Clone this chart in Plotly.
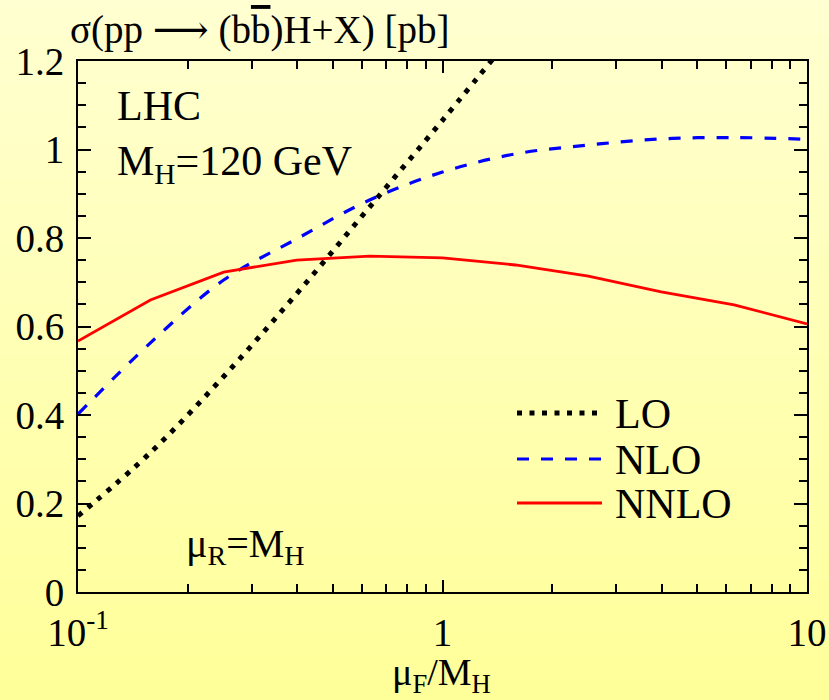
import plotly.graph_objects as go

# ---- data ----
mu_f = [0.1, 0.158, 0.251, 0.398, 0.631, 1.0, 1.585, 2.512, 3.981, 6.31, 10.0]
lo_x = [0.1, 0.158, 0.251, 0.398, 0.631, 1.0, 1.585]
lo_y = [0.172, 0.315, 0.487, 0.674, 0.870, 1.066, 1.267]
nlo_y = [0.402, 0.563, 0.705, 0.798, 0.886, 0.949, 0.990, 1.010, 1.024, 1.027, 1.023]
nnlo_y = [0.567, 0.660, 0.723, 0.750, 0.759, 0.755, 0.739, 0.714, 0.678, 0.649, 0.606]

series_names = ["LO", "NLO", "NNLO"]
x_tickvals = [0.1, 1, 10]
x_ticktext = ["10<sup>-1</sup>", "1", "10"]
x_minor = [0.2, 0.3, 0.4, 0.5, 0.6, 0.7, 0.8, 0.9, 2, 3, 4, 5, 6, 7, 8, 9]
y_tickvals = [0, 0.2, 0.4, 0.6, 0.8, 1.0, 1.2]
y_ticktext = ["0", "0.2", "0.4", "0.6", "0.8", "1", "1.2"]

FONT = "Liberation Serif"
W, H = 829, 700
L, R, T, B = 78, 22, 61, 108
PW, PH = W - L - R, H - T - B


def px(x):
    return (x - L) / PW


def py(y):
    return (H - B - y) / PH


fig = go.Figure()
fig.add_trace(go.Scatter(x=lo_x, y=lo_y, mode="lines", name=series_names[0],
                         line=dict(color="black", width=5, dash="5px,7.5px", shape="spline"),
                         showlegend=False, cliponaxis=True))
fig.add_trace(go.Scatter(x=mu_f, y=nlo_y, mode="lines", name=series_names[1],
                         line=dict(color="#0000ff", width=3.2, dash="12px,12px", shape="spline"),
                         showlegend=False))
fig.add_trace(go.Scatter(x=mu_f, y=nnlo_y, mode="lines", name=series_names[2],
                         line=dict(color="#ff0000", width=2.8),
                         showlegend=False))

shapes = []
# background vertical gradient
n = 140
top_c = (255, 255, 209)
bot_c = (255, 255, 153)
for i in range(n):
    t = i / (n - 1)
    c = tuple(round(top_c[k] + (bot_c[k] - top_c[k]) * t) for k in range(3))
    y0 = i * H / n
    y1 = (i + 1) * H / n + 1
    shapes.append(dict(type="rect", xref="paper", yref="paper",
                       x0=px(-5), x1=px(W + 5), y0=py(y1), y1=py(y0),
                       fillcolor="rgb(%d,%d,%d)" % c, line=dict(width=0), layer="below"))

# manual legend
leg_rows = [413, 459, 503]
leg_styles = [dict(color="black", width=5, dash="5px,7.5px"),
              dict(color="#0000ff", width=3.2, dash="12px,12px"),
              dict(color="#ff0000", width=2.8)]
annotations = []
for name, yy, st in zip(series_names, leg_rows, leg_styles):
    shapes.append(dict(type="line", xref="paper", yref="paper",
                       x0=px(517), x1=px(602), y0=py(yy), y1=py(yy), line=st))
    annotations.append(dict(text=name, xref="paper", yref="paper", x=px(613), y=py(yy + 1),
                            xanchor="left", yanchor="middle", showarrow=False,
                            font=dict(family=FONT, size=42, color="black")))

annotations += [
    dict(text="σ(pp <span style='font-family:DejaVu Serif'>⟶</span> (b<span style='text-decoration:overline'>b</span>)H+X) [pb]",
         xref="paper", yref="paper", x=px(68), y=py(29), xanchor="left", yanchor="middle",
         showarrow=False, font=dict(family=FONT, size=39, color="black")),
    dict(text="LHC", xref="paper", yref="paper", x=px(115), y=py(106), xanchor="left",
         yanchor="middle", showarrow=False, font=dict(family=FONT, size=42, color="black")),
    dict(text="M<sub>H</sub>=120 GeV", xref="paper", yref="paper", x=px(115), y=py(164),
         xanchor="left", yanchor="middle", showarrow=False,
         font=dict(family=FONT, size=42, color="black")),
    dict(text="μ<sub>R</sub>=M<sub>H</sub>", xref="paper", yref="paper", x=px(184), y=py(546),
         xanchor="left", yanchor="middle", showarrow=False,
         font=dict(family=FONT, size=40, color="black")),
    # x-axis title placed explicitly
    dict(text="μ<sub>F</sub>/M<sub>H</sub>", xref="paper", yref="paper", x=px(441), y=py(675),
         xanchor="center", yanchor="middle", showarrow=False,
         font=dict(family=FONT, size=38, color="black")),
]

fig.update_layout(
    width=W, height=H,
    margin=dict(l=L, r=R, t=T, b=B, autoexpand=False),
    paper_bgcolor="rgb(255,255,180)",
    plot_bgcolor="rgba(0,0,0,0)",
    shapes=shapes, annotations=annotations,
    font=dict(family=FONT, size=40, color="black"),
)
fig.update_xaxes(type="log", range=[-1, 1], showgrid=False, zeroline=False, automargin=False,
                 showline=True, linecolor="black", linewidth=2, mirror="allticks",
                 ticks="inside", ticklen=12, tickwidth=1.5, tickcolor="black",
                 tickvals=x_tickvals, ticktext=x_ticktext, ticklabelstandoff=5,
                 tickfont=dict(family=FONT, size=39),
                 minor=dict(tickvals=x_minor, ticks="inside", ticklen=8, tickwidth=1.5,
                            tickcolor="black", showgrid=False))
fig.update_yaxes(range=[0, 1.2], showgrid=False, zeroline=False, automargin=False,
                 showline=True, linecolor="black", linewidth=2, mirror="allticks",
                 ticks="inside", ticklen=13, tickwidth=1.5, tickcolor="black",
                 tickvals=y_tickvals, ticktext=y_ticktext, ticklabelstandoff=4,
                 tickfont=dict(family=FONT, size=39),
                 minor=dict(dtick=0.05, ticks="inside", ticklen=8, tickwidth=1.5,
                            tickcolor="black", showgrid=False))

fig.write_html("out.html")
